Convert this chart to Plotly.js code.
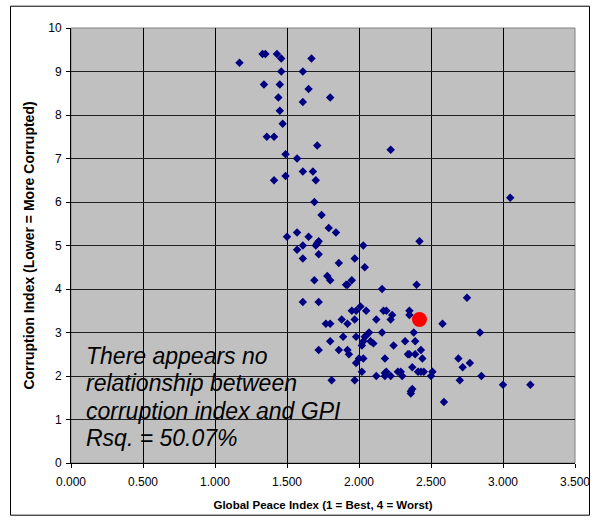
<!DOCTYPE html>
<html>
<head>
<meta charset="utf-8">
<script src="https://cdn.plot.ly/plotly-3.0.1.min.js"></script>
<style>
html,body{margin:0;padding:0;background:#fff;}
#chart{width:599px;height:527px;}
</style>
</head>
<body>
<div id="chart"></div>
<script>
// Global Peace Index (x) vs Corruption Index (y)
const gpi = [
 1.17,1.33,1.35,1.43,1.46,1.67,1.46,1.61,1.34,1.45,1.65,1.44,1.80,1.61,1.45,1.47,1.36,1.41,1.71,2.22,
 1.49,1.57,1.61,1.68,1.49,1.41,1.70,1.69,1.74,1.79,1.84,1.50,1.57,1.65,1.72,1.71,1.70,1.61,1.57,2.03,
 1.72,1.61,1.97,1.86,2.04,1.69,1.78,1.80,1.91,1.92,1.95,2.16,2.40,2.42,3.05,2.75,1.61,1.72,2.01,1.95,
 1.98,2.05,2.17,2.19,2.23,2.35,2.35,1.88,1.97,2.12,2.22,1.77,1.80,1.92,2.58,2.84,2.07,2.16,2.38,2.05,
 2.04,1.98,1.89,2.08,2.10,2.03,2.02,2.32,2.39,1.80,2.24,1.72,1.86,1.92,1.93,2.43,2.34,2.35,2.39,2.18,
 2.44,2.69,2.77,2.72,2.00,1.98,2.03,2.02,2.19,2.18,2.27,2.29,2.30,2.37,2.41,2.43,2.45,2.51,2.50,2.12,
 2.18,2.22,2.70,1.81,1.97,2.37,2.36,2.36,2.59,2.85,3.00,3.19
];
const cpi = [
 9.2,9.4,9.4,9.4,9.3,9.3,9.0,9.0,8.7,8.7,8.6,8.4,8.4,8.3,8.1,7.8,7.5,7.5,7.3,7.2,
 7.1,7.0,6.7,6.7,6.6,6.5,6.5,6.0,5.7,5.4,5.3,5.2,5.3,5.2,5.1,5.05,5.0,5.0,4.9,5.0,
 4.8,4.7,4.7,4.6,4.5,4.2,4.3,4.2,4.1,4.1,4.2,4.0,4.1,5.1,6.1,3.8,3.7,3.7,3.6,3.5,
 3.5,3.5,3.5,3.5,3.4,3.5,3.4,3.3,3.3,3.3,3.3,3.2,3.2,3.2,3.2,3.0,3.0,3.0,3.0,2.93,
 2.9,2.9,2.9,2.8,2.75,2.8,2.7,2.8,2.8,2.8,2.7,2.6,2.6,2.6,2.5,2.6,2.5,2.5,2.5,2.4,
 2.4,2.4,2.3,2.2,2.4,2.3,2.4,2.1,2.1,2.07,2.1,2.1,2.0,2.2,2.1,2.1,2.1,2.1,2.0,2.0,
 2.0,2.0,1.9,1.9,1.9,1.7,1.65,1.6,1.4,2.0,1.8,1.8
];
// highlighted country
const hiGpi = [2.42];
const hiCpi = [3.3];

const xTickVals = [0, 0.5, 1.0, 1.5, 2.0, 2.5, 3.0, 3.5];
const yTickVals = [0,1,2,3,4,5,6,7,8,9,10];
const noteLines = ["There appears no", "relationship between", "corruption index and GPI", "Rsq. = 50.07%"];

const FONT = "Liberation Sans, Arial, sans-serif";
const plotTop = 28.3, plotBot = 463.3, plotL = 71, plotR = 575;
const pyToPaper = py => (plotBot - py) / (plotBot - plotTop);
const pxToPaper = px => (px - plotL) / (plotR - plotL);
const lineCenters = [356, 383.5, 411, 438.5];

const traces = [
  {x: gpi, y: cpi, type: 'scatter', mode: 'markers',
   marker: {symbol: 'diamond', size: 6.5, color: '#000080'}, hoverinfo: 'x+y'},
  {x: hiGpi, y: hiCpi, type: 'scatter', mode: 'markers',
   marker: {symbol: 'circle', size: 15, color: '#ff0000'}}
];

const layout = {
  width: 599, height: 527,
  margin: {l: 71, r: 24, t: 28, b: 64, pad: 0},
  paper_bgcolor: '#ffffff', plot_bgcolor: '#c0c0c0',
  showlegend: false,
  font: {family: FONT, size: 12, color: '#000'},
  xaxis: {
    range: [0, 3.5], tickvals: xTickVals, tickformat: '.3f',
    showgrid: true, gridcolor: '#000000', gridwidth: 1,
    zeroline: false, showline: true, linecolor: '#000', linewidth: 1,
    ticks: 'outside', ticklen: 4, tickcolor: '#000', ticklabelstandoff: 4,
    tickfont: {family: FONT, size: 12, color: '#000'},
    title: {text: 'Global Peace Index (1 = Best, 4 = Worst)', font: {family: FONT, size: 11.5, color: '#000', weight: 'bold'}, standoff: 12},
    automargin: false, fixedrange: true
  },
  yaxis: {
    range: [0, 10], tickvals: yTickVals,
    showgrid: true, gridcolor: '#202020', gridwidth: 1,
    zeroline: false, showline: true, linecolor: '#000', linewidth: 1,
    ticks: 'outside', ticklen: 4, tickcolor: '#000', ticklabelstandoff: 2,
    tickfont: {family: FONT, size: 12, color: '#000'},
    title: {text: 'Corruption Index (Lower = More Corrupted)', font: {family: FONT, size: 14, color: '#000', weight: 'bold'}, standoff: 10},
    automargin: false, fixedrange: true
  },
  shapes: [
    {type: 'rect', xref: 'paper', yref: 'paper', x0: 0, x1: 1, y0: 0, y1: 1,
     line: {color: '#808080', width: 1}, layer: 'below'},
    {type: 'rect', xref: 'paper', yref: 'paper',
     x0: pxToPaper(10.5), x1: pxToPaper(589.5), y0: pyToPaper(515.5), y1: pyToPaper(6.5),
     line: {color: '#000', width: 1}, fillcolor: 'rgba(0,0,0,0)', layer: 'above'}
  ],
  annotations: noteLines.map((t, i) => ({
    text: t, xref: 'paper', yref: 'paper',
    x: pxToPaper(84), y: pyToPaper(lineCenters[i]),
    xanchor: 'left', yanchor: 'middle', showarrow: false,
    font: {family: FONT, size: 23, color: '#000', style: 'italic'}
  }))
};

Plotly.newPlot('chart', traces, layout, {displayModeBar: false, staticPlot: true});
</script>
</body>
</html>
